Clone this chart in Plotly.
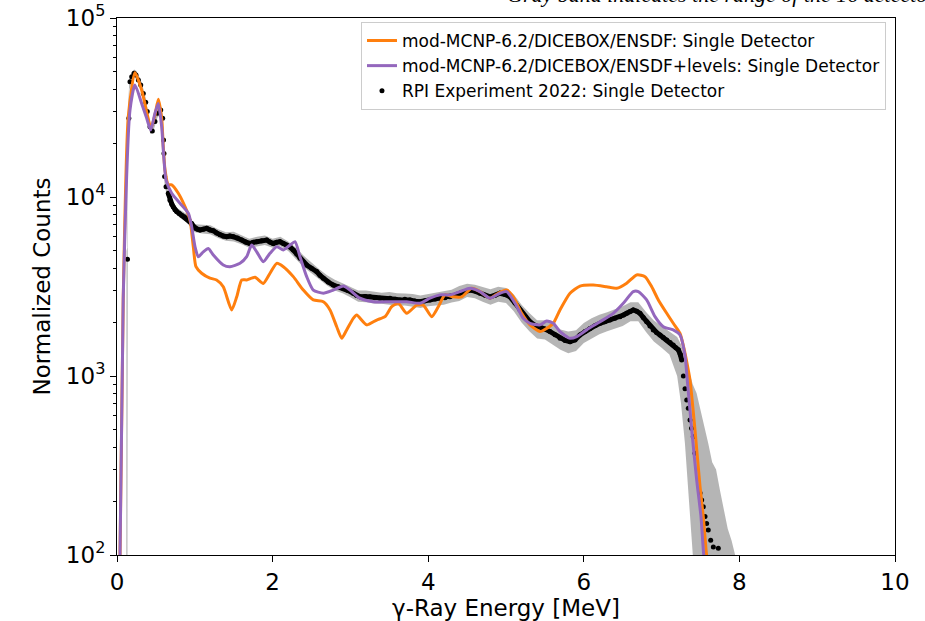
import plotly.graph_objects as go

# ---------------- data ----------------
exp_x = [0.135, 0.152, 0.167, 0.189, 0.219, 0.244, 0.274, 0.305, 0.338, 0.369, 0.389, 0.424, 0.454, 0.488,
         0.518, 0.562, 0.587, 0.598, 0.604, 0.612, 0.630, 0.659, 0.681, 0.705, 0.724, 0.745, 0.767, 0.800,
         0.832, 0.865, 0.896, 0.930, 0.960, 0.985, 1.003, 1.035, 1.067, 1.110, 1.153, 1.195, 1.238, 1.280,
         1.324, 1.365, 1.410, 1.450, 1.495, 1.550, 1.603, 1.655, 1.710, 1.750, 1.796, 1.860, 1.924, 1.965,
         2.009, 2.050, 2.095, 2.140, 2.181, 2.225, 2.266, 2.310, 2.352, 2.395, 2.438, 2.500, 2.567, 2.610,
         2.652, 2.715, 2.780, 2.845, 2.909, 2.970, 3.037, 3.080, 3.123, 3.190, 3.252, 3.315, 3.380, 3.445,
         3.509, 3.575, 3.638, 3.700, 3.766, 3.830, 3.895, 3.960, 4.023, 4.090, 4.152, 4.215, 4.280, 4.345,
         4.409, 4.475, 4.537, 4.600, 4.666, 4.730, 4.794, 4.860, 4.923, 4.990, 5.051, 5.115, 5.180, 5.245,
         5.308, 5.370, 5.437, 5.500, 5.566, 5.630, 5.694, 5.760, 5.823, 5.887, 5.951, 6.015, 6.080, 6.145,
         6.208, 6.270, 6.337, 6.400, 6.465, 6.510, 6.551, 6.595, 6.636, 6.680, 6.722, 6.765, 6.808, 6.850,
         6.893, 6.935, 6.979, 7.022, 7.066, 7.110, 7.150, 7.185, 7.215, 7.240, 7.258, 7.280, 7.301, 7.323,
         7.343, 7.365, 7.385, 7.407, 7.429, 7.494, 7.515, 7.536, 7.558, 7.579, 7.600, 7.631, 7.665, 7.729]
exp_y = [4490, 27500, 44000, 47000, 49100, 48100, 45100, 42300, 37900, 33800, 30000, 24700, 23400, 26400,
         29400, 30600, 27500, 20800, 17500, 13000, 11400, 10500, 9600, 9100, 8800, 8500, 8300, 8100,
         7900, 7750, 7600, 7350, 7100, 6850, 6700, 6600, 6550, 6600, 6680, 6550, 6480, 6300,
         6150, 6050, 6000, 6050, 6000, 5900, 5750, 5600, 5500, 5580, 5630, 5700, 5750, 5600,
         5500, 5580, 5630, 5500, 5400, 5250, 5050, 4800, 4550, 4350, 4170, 4000, 3830, 3650,
         3520, 3350, 3220, 3150, 3090, 3000, 2900, 2820, 2770, 2780, 2770, 2740, 2720, 2700,
         2720, 2680, 2660, 2680, 2660, 2620, 2600, 2630, 2660, 2690, 2720, 2740, 2770, 2830,
         2900, 2960, 3020, 2980, 2900, 2830, 2770, 2830, 2900, 2850, 2770, 2560, 2340, 2150,
         2010, 1920, 1885, 1830, 1770, 1700, 1625, 1580, 1555, 1590, 1695, 1770, 1845, 1910,
         1970, 2010, 2055, 2100, 2145, 2190, 2240, 2290, 2340, 2300, 2240, 2120, 2010, 1900,
         1805, 1750, 1695, 1640, 1590, 1540, 1490, 1440, 1400, 1320, 1230, 1000, 850, 735,
         660, 568, 510, 458, 370, 222, 203, 186, 164, 150, 138, 121, 111, 109]

band_x = [0.118, 0.122, 0.132, 0.140, 0.160, 0.19, 0.22, 0.25, 0.28, 0.31, 0.34, 0.37, 0.40, 0.43, 0.46,
          0.49, 0.52, 0.56, 0.59, 0.61, 0.63, 0.66, 0.70, 0.75, 0.80, 0.90, 1.00, 1.10, 1.20, 1.30, 1.40,
          1.50, 1.60, 1.70, 1.80, 1.90, 2.00, 2.10, 2.20, 2.30, 2.40, 2.50, 2.60, 2.70, 2.80, 2.90, 3.00,
          3.10, 3.20, 3.30, 3.40, 3.50, 3.60, 3.70, 3.80, 3.90, 4.00, 4.10, 4.20, 4.30, 4.40, 4.50, 4.60,
          4.70, 4.80, 4.90, 5.00, 5.10, 5.20, 5.30, 5.40, 5.50, 5.60, 5.70, 5.80, 5.90, 6.00, 6.10, 6.20,
          6.30, 6.40, 6.50, 6.60, 6.70, 6.80, 6.90, 7.00, 7.10, 7.20, 7.25, 7.30, 7.35, 7.40, 7.45, 7.50,
          7.55, 7.60, 7.65, 7.70, 7.75, 7.80, 7.85, 7.90, 7.95, 8.00]
band_lo = [10, 10, 10, 20000, 40000, 44500, 46500, 45500, 42500, 40000, 35800, 31800, 26500, 22500, 22800,
           25000, 27800, 29000, 25000, 12000, 10700, 9900, 8800, 8100, 7700, 7200, 6350, 6250, 6200, 5900, 5700,
           5650, 5450, 5200, 5300, 5400, 5200, 5300, 5000, 4500, 4050, 3750, 3450, 3200, 3000, 2900, 2750,
           2600, 2580, 2540, 2530, 2510, 2470, 2480, 2430, 2400, 2450, 2480, 2500, 2570, 2620, 2760, 2720,
           2600, 2500, 2600, 2560, 2300, 1990, 1780, 1620, 1600, 1500, 1400, 1340, 1380, 1530, 1620, 1710,
           1780, 1830, 1900, 2020, 2020, 1760, 1560, 1440, 1320, 1000, 700, 420, 200, 95, 50, 40,
           35, 30, 30, 30, 30, 30, 30, 30, 30, 30]
band_hi = [10, 5000, 5200, 30000, 46000, 49500, 51500, 50500, 47500, 44500, 40000, 35500, 29500, 25500, 25500,
           28000, 31000, 32300, 28500, 17000, 12200, 11100, 9600, 8800, 8500, 8000, 7050, 7000, 6950, 6600, 6350,
           6400, 6100, 5850, 6000, 6100, 5850, 6000, 5650, 5200, 4700, 4300, 3950, 3650, 3450, 3300, 3150,
           3000, 3000, 2960, 2920, 2950, 2900, 2890, 2870, 2820, 2870, 2930, 2980, 3030, 3180, 3280, 3230,
           3150, 3050, 3150, 3100, 2850, 2500, 2250, 2050, 2050, 1950, 1820, 1770, 1800, 1980, 2100, 2200,
           2270, 2350, 2450, 2580, 2580, 2280, 2040, 1900, 1780, 1650, 1500, 1250, 1050, 900, 800, 650,
           520, 420, 330, 300, 230, 180, 140, 120, 100, 80]

orange_x = [0.03, 0.08, 0.145, 0.231, 0.317, 0.40, 0.437, 0.488, 0.531, 0.574, 0.595, 0.617, 0.659, 0.703,
            0.788, 0.874, 0.938, 0.981, 1.015, 1.088, 1.195, 1.28, 1.366, 1.474, 1.539, 1.603, 1.667, 1.774,
            1.880, 1.967, 2.053, 2.138, 2.266, 2.395, 2.523, 2.652, 2.738, 2.824, 2.888, 2.952, 3.037, 3.081,
            3.210, 3.338, 3.445, 3.531, 3.616, 3.724, 3.852, 3.937, 4.045, 4.130, 4.216, 4.323, 4.431, 4.559,
            4.666, 4.794, 4.901, 5.009, 5.094, 5.202, 5.308, 5.437, 5.523, 5.608, 5.694, 5.823, 5.951, 6.122,
            6.294, 6.423, 6.551, 6.680, 6.787, 6.873, 6.958, 7.066, 7.150, 7.237, 7.301, 7.343, 7.365, 7.429,
            7.494, 7.536, 7.571, 7.60]
orange_y = [50, 2700, 28100, 49400, 39600, 27500, 24200, 28700, 35200, 27500, 19100, 14200, 11700, 11700,
            10500, 8840, 7450, 5270, 4080, 3750, 3520, 3440, 3150, 2340, 2770, 3440, 3440, 3560,
            3290, 3750, 4260, 4080, 3590, 3020, 2660, 2600, 2340, 1885, 1625, 1810, 2100, 2190,
            1930, 2055, 2145, 2440, 2550, 2240, 2490, 2490, 2145, 2440, 2840, 2770, 2770, 3090,
            2960, 2720, 2900, 3020, 2770, 2240, 1930, 1770, 1845, 1970, 2340, 2900, 3180, 3220,
            3150, 3090, 3300, 3670, 3590, 3150, 2660, 2240, 1970, 1730, 1340, 1080, 950, 500,
            241, 164, 107, 80]

purple_x = [0.03, 0.08, 0.167, 0.231, 0.317, 0.382, 0.433, 0.488, 0.531, 0.574, 0.604, 0.630, 0.703, 0.81,
            0.917, 0.96, 1.003, 1.045, 1.109, 1.174, 1.238, 1.366, 1.452, 1.581, 1.667, 1.731, 1.796, 1.880,
            1.967, 2.053, 2.138, 2.224, 2.288, 2.352, 2.438, 2.523, 2.652, 2.780, 2.909, 2.995, 3.123, 3.294,
            3.509, 3.724, 3.895, 4.023, 4.152, 4.280, 4.409, 4.537, 4.666, 4.794, 4.923, 5.009, 5.116, 5.222,
            5.308, 5.437, 5.523, 5.608, 5.694, 5.823, 5.909, 6.037, 6.208, 6.379, 6.508, 6.636, 6.701, 6.808,
            6.915, 7.022, 7.150, 7.237, 7.301, 7.33, 7.387, 7.451, 7.506, 7.536, 7.56]
purple_y = [50, 2700, 30600, 42300, 33300, 27500, 23650, 29400, 33300, 24700, 16100, 12450, 10500, 9220,
            8110, 6820, 5270, 4630, 4940, 5160, 4740, 4170, 4080, 4260, 4640, 5390, 4940, 4350,
            4850, 5280, 5060, 5390, 5630, 4640, 3590, 3020, 2900, 3020, 3180, 3020, 2720, 2600,
            2600, 2600, 2550, 2720, 2840, 2840, 2960, 3090, 2960, 2720, 2900, 2960, 2550, 2100,
            1970, 1930, 2030, 1970, 1770, 1625, 1660, 1810, 2010, 2240, 2550, 2960, 2960, 2660,
            2145, 1885, 1810, 1695, 1300, 950, 500, 262, 164, 107, 80]

y_tickvals = [1e2, 1e3, 1e4, 1e5]
y_ticktext = ["10<sup>2</sup>", "10<sup>3</sup>", "10<sup>4</sup>", "10<sup>5</sup>"]
y_minor_vals = [200, 300, 400, 500, 600, 700, 800, 900,
                2000, 3000, 4000, 5000, 6000, 7000, 8000, 9000,
                20000, 30000, 40000, 50000, 60000, 70000, 80000, 90000]
x_tickvals = [0, 2, 4, 6, 8, 10]

label_orange = "mod-MCNP-6.2/DICEBOX/ENSDF: Single Detector"
label_purple = "mod-MCNP-6.2/DICEBOX/ENSDF+levels: Single Detector"
label_exp = "RPI Experiment 2022: Single Detector"
note_text = "Gray band indicates the range of the 16 detectors"

# ---------------- figure ----------------
FONT = "DejaVu Sans, Verdana, sans-serif"
fig = go.Figure()

fig.add_trace(go.Scatter(x=band_x, y=band_lo, mode="lines", line=dict(width=0, color="rgba(0,0,0,0)"),
                         showlegend=False, hoverinfo="skip"))
fig.add_trace(go.Scatter(x=band_x, y=band_hi, mode="lines", line=dict(width=0, color="rgba(0,0,0,0)"),
                         fill="tonexty", fillcolor="rgba(150,150,150,0.7)", showlegend=False, hoverinfo="skip"))

# continuous part of the measured spectrum (dense points)
i0 = exp_x.index(0.659)
i1 = exp_x.index(7.258) + 1
fig.add_trace(go.Scatter(x=exp_x[i0:i1], y=exp_y[i0:i1], mode="lines",
                         line=dict(color="black", width=5), showlegend=False, hoverinfo="skip"))

fig.add_trace(go.Scatter(x=exp_x, y=exp_y, mode="markers", name=label_exp,
                         marker=dict(color="black", size=5), legendrank=3))
fig.add_trace(go.Scatter(x=orange_x, y=orange_y, mode="lines", name=label_orange,
                         line=dict(color="#ff7f0e", width=3, shape="spline", smoothing=0.6),
                         legendrank=1))
fig.add_trace(go.Scatter(x=purple_x, y=purple_y, mode="lines", name=label_purple,
                         line=dict(color="#9467bd", width=3, shape="spline", smoothing=0.6),
                         legendrank=2))

fig.update_layout(
    width=925, height=621,
    margin=dict(l=117, r=30, t=18, b=66, autoexpand=False),
    paper_bgcolor="white", plot_bgcolor="white",
    font=dict(family=FONT, color="black", size=17),
    legend=dict(x=0.9884, y=0.9926, xanchor="right", yanchor="top",
                bgcolor="rgba(255,255,255,0.85)", bordercolor="#cccccc", borderwidth=1,
                font=dict(family=FONT, size=17), traceorder="normal"),
    showlegend=True,
)
fig.update_xaxes(range=[0, 10], tickvals=x_tickvals, ticks="outside", ticklen=6, tickwidth=1,
                 tickcolor="black", showline=True, linecolor="black", linewidth=1, mirror=True,
                 showgrid=False, zeroline=False, tickfont=dict(size=23), automargin=False,
                 title=dict(text="γ-Ray Energy [MeV]", font=dict(size=23), standoff=4))
fig.update_yaxes(type="log", range=[2, 5], tickvals=y_tickvals, ticktext=y_ticktext, ticks="outside",
                 ticklen=6, tickwidth=1, tickcolor="black", showline=True, linecolor="black",
                 linewidth=1, mirror=True, showgrid=False, zeroline=False, tickfont=dict(size=23),
                 automargin=False,
                 minor=dict(tickvals=y_minor_vals, ticks="outside", ticklen=3.5, tickcolor="black",
                            showgrid=False),
                 title=dict(text="Normalized Counts", font=dict(size=23), standoff=8))

fig.add_annotation(text="<i>" + note_text + "</i>", xref="paper", yref="paper",
                   x=0.4987, y=1.0168, xanchor="left", yanchor="bottom", showarrow=False,
                   font=dict(family="Liberation Serif, DejaVu Serif, serif", size=22, color="black"))

fig.write_html("out.html")
